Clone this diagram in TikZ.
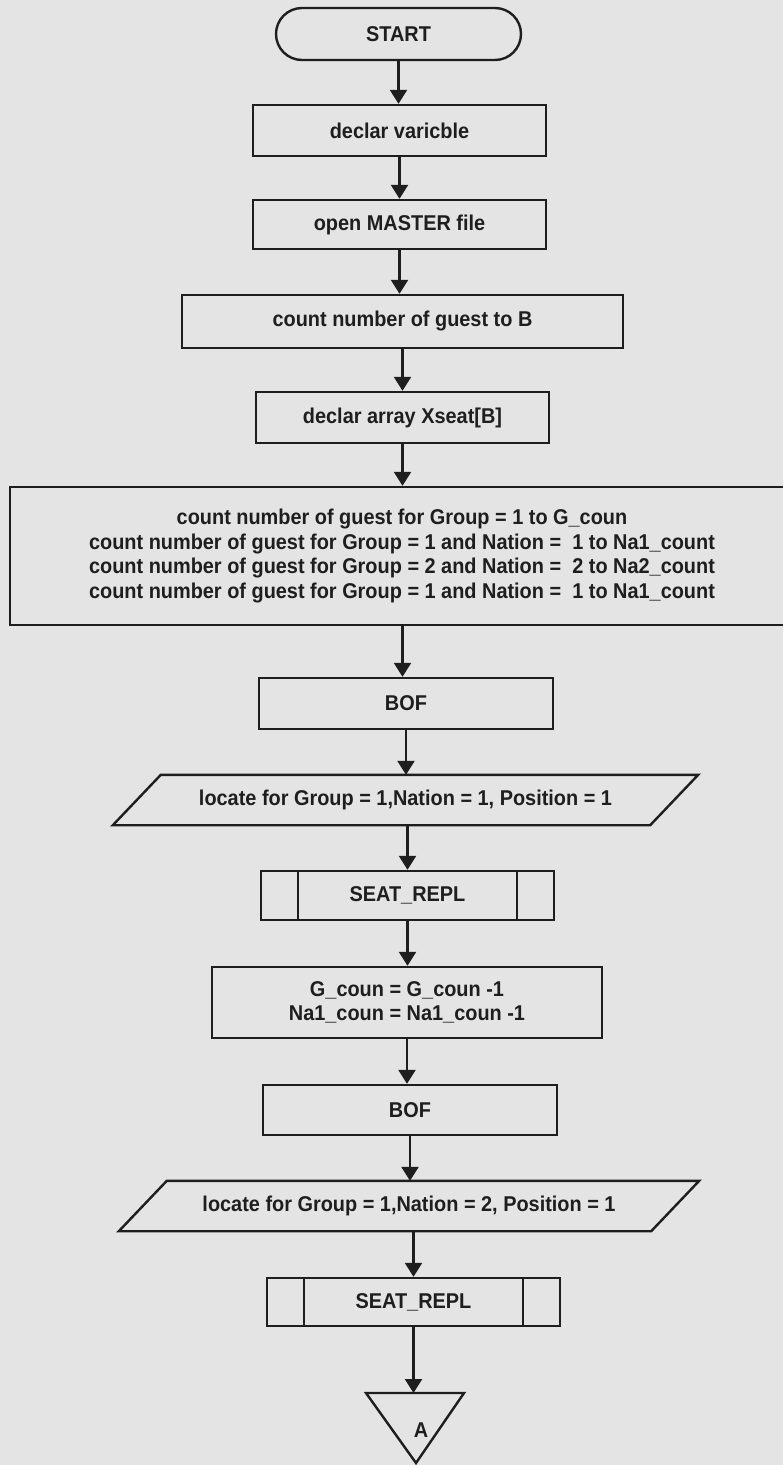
\documentclass[tikz,border=0pt]{standalone}
\usepackage{fontspec}
\setmainfont{Liberation Sans}
\newfontfamily\diagfont{Liberation Sans}[FakeStretch=0.93]
\usetikzlibrary{arrows.meta,shapes.geometric,calc}
\definecolor{paper}{RGB}{228,228,228}
\definecolor{ink}{RGB}{30,30,30}
\tikzset{
  base/.style={draw=ink, line width=2.4pt, text=ink, inner sep=0pt, align=center,
    font=\diagfont\bfseries\fontsize{21.4}{24.5}\selectfont},
  termbox/.style={base, rectangle, rounded corners=26pt},
  procbox/.style={base, rectangle},
  subbox/.style={base, rectangle,
    path picture={\draw[ink, line width=2.4pt]
      ([xshift=37pt]path picture bounding box.north west) -- ([xshift=37pt]path picture bounding box.south west)
      ([xshift=-37pt]path picture bounding box.north east) -- ([xshift=-37pt]path picture bounding box.south east);}},
  iotext/.style={base, draw=none, rectangle},
  outline/.style={draw=ink, line width=2.4pt, line join=miter},
  flow/.style={draw=ink, line width=2.4pt, -{Triangle[length=14pt,width=17pt]}},
}
\begin{document}
\begin{tikzpicture}[x=1pt,y=-1pt]
\useasboundingbox (0,0) rectangle (783,1465);
\fill[paper] (0,0) rectangle (783,1465);
\clip (0,0) rectangle (783,1465);

\node[termbox, minimum width=245, minimum height=52] (start) at (398.5,34) {START};
\node[procbox, minimum width=293, minimum height=51] (decl) at (399.5,130.5) {declar varicble};
\node[procbox, minimum width=293, minimum height=49] (open) at (399.5,224.5) {open MASTER file};
\node[procbox, minimum width=441, minimum height=53] (cntB) at (402.5,321.5) {count number of guest to B};
\node[procbox, minimum width=293, minimum height=51] (xseat) at (402.5,417.5) {declar array Xseat[B]};
\node[procbox, minimum width=784, minimum height=138] (cntG) at (402,556)
  {count number of guest for Group = 1 to G\_coun\\
   count number of guest for Group = 1 and Nation = \ 1 to Na1\_count\\
   count number of guest for Group = 2 and Nation = \ 2 to Na2\_count\\
   count number of guest for Group = 1 and Nation = \ 1 to Na1\_count};
\node[procbox, minimum width=294, minimum height=51] (bof1) at (406,703.5) {BOF};
\node[iotext, minimum width=535, minimum height=48] (loc1) at (405.5,800) {locate for Group = 1,Nation = 1, Position = 1};
\draw[outline] ($(loc1.south west)+(-24,0)$) -- ($(loc1.north west)+(24,0)$)
  -- ($(loc1.north east)+(24,0)$) -- ($(loc1.south east)+(-24,0)$) -- cycle;
\node[subbox, minimum width=293, minimum height=49] (seat1) at (407.5,895.5) {SEAT\_REPL};
\node[procbox, minimum width=390, minimum height=71] (dec) at (407,1002.5) {G\_coun = G\_coun -1\\Na1\_coun = Na1\_coun -1};
\node[procbox, minimum width=294, minimum height=50] (bof2) at (410,1110) {BOF};
\node[iotext, minimum width=530, minimum height=48] (loc2) at (409,1206) {locate for Group = 1,Nation = 2, Position = 1};
\draw[outline] ($(loc2.south west)+(-24,0)$) -- ($(loc2.north west)+(24,0)$)
  -- ($(loc2.north east)+(24,0)$) -- ($(loc2.south east)+(-24,0)$) -- cycle;
\node[subbox, minimum width=293, minimum height=48] (seat2) at (413.5,1302) {SEAT\_REPL};

\coordinate (triTop) at (415,1393);
\draw[outline] (366,1393) -- (464,1393) -- (416,1463) -- cycle;
\node[base, draw=none] (conA) at (421,1430) {A};

\draw[flow] (start.south) -- (start.south |- decl.north);
\draw[flow] (decl.south) -- (decl.south |- open.north);
\draw[flow] (open.south) -- (open.south |- cntB.north);
\draw[flow] (xseat.north |- cntB.south) -- (xseat.north);
\draw[flow] (xseat.south) -- (xseat.south |- cntG.north);
\draw[flow] (xseat.south |- cntG.south) -- (xseat.south |- bof1.north);
\draw[flow] (bof1.south) -- (bof1.south |- loc1.north);
\draw[flow] (seat1.north |- loc1.south) -- (seat1.north);
\draw[flow] (seat1.south) -- (seat1.south |- dec.north);
\draw[flow] (dec.south) -- (dec.south |- bof2.north);
\draw[flow] (bof2.south) -- (bof2.south |- loc2.north);
\draw[flow] (seat2.north |- loc2.south) -- (seat2.north);
\draw[flow] (seat2.south) -- (seat2.south |- triTop);
\end{tikzpicture}
\end{document}
